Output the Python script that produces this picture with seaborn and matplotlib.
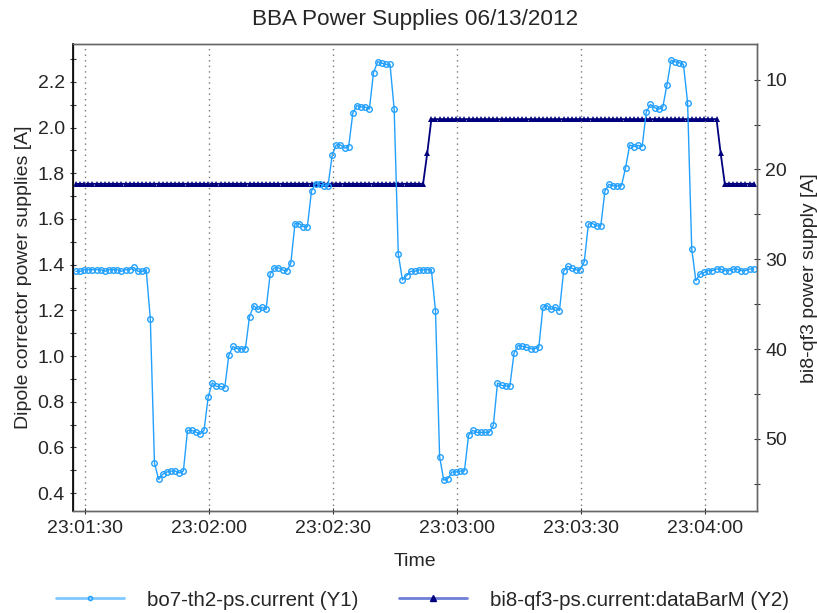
import matplotlib
matplotlib.use("Agg")
import matplotlib.pyplot as plt
import matplotlib.dates as mdates
from matplotlib.lines import Line2D
from matplotlib.ticker import MultipleLocator
import pandas as pd
import seaborn as sns

# data, one sample per second
start_time = "2012-06-13 23:01:27.8"
y1_name = "bo7-th2-ps.current (Y1)"
y2_name = "bi8-qf3-ps.current:dataBarM (Y2)"

th2_current = [
    1.371, 1.371, 1.378, 1.378, 1.378, 1.378, 1.378, 1.371, 1.378, 1.378,
    1.378, 1.371, 1.378, 1.378, 1.388, 1.371, 1.371, 1.378, 1.163, 0.532,
    0.460, 0.483, 0.493, 0.497, 0.497, 0.489, 0.497, 0.675, 0.675, 0.668,
    0.658, 0.675, 0.821, 0.883, 0.867, 0.867, 0.861, 1.004, 1.042, 1.032,
    1.032, 1.032, 1.173, 1.220, 1.204, 1.214, 1.204, 1.359, 1.386, 1.386,
    1.377, 1.371, 1.407, 1.580, 1.580, 1.566, 1.566, 1.723, 1.755, 1.752,
    1.745, 1.745, 1.880, 1.924, 1.924, 1.910, 1.917, 2.064, 2.096, 2.090,
    2.090, 2.081, 2.240, 2.288, 2.282, 2.276, 2.276, 2.081, 1.447, 1.333,
    1.352, 1.371, 1.371, 1.377, 1.377, 1.378, 1.378, 1.199, 0.559, 0.457,
    0.464, 0.493, 0.493, 0.497, 0.497, 0.653, 0.675, 0.666, 0.666, 0.666,
    0.666, 0.697, 0.882, 0.872, 0.869, 0.869, 1.013, 1.046, 1.043, 1.039,
    1.032, 1.032, 1.039, 1.214, 1.221, 1.204, 1.214, 1.199, 1.371, 1.393,
    1.384, 1.377, 1.377, 1.413, 1.578, 1.580, 1.570, 1.570, 1.723, 1.752,
    1.745, 1.745, 1.745, 1.825, 1.924, 1.917, 1.922, 1.917, 2.068, 2.101,
    2.087, 2.080, 2.090, 2.186, 2.295, 2.288, 2.284, 2.276, 2.109, 1.469,
    1.330, 1.359, 1.366, 1.374, 1.374, 1.381, 1.381, 1.374, 1.374, 1.381,
    1.381, 1.374, 1.374, 1.381, 1.381,
]

qf3_current = [
    21.6, 21.6, 21.6, 21.6, 21.6, 21.6, 21.6, 21.6, 21.6, 21.6,
    21.6, 21.6, 21.6, 21.6, 21.6, 21.6, 21.6, 21.6, 21.6, 21.6,
    21.6, 21.6, 21.6, 21.6, 21.6, 21.6, 21.6, 21.6, 21.6, 21.6,
    21.6, 21.6, 21.6, 21.6, 21.6, 21.6, 21.6, 21.6, 21.6, 21.6,
    21.6, 21.6, 21.6, 21.6, 21.6, 21.6, 21.6, 21.6, 21.6, 21.6,
    21.6, 21.6, 21.6, 21.6, 21.6, 21.6, 21.6, 21.6, 21.6, 21.6,
    21.6, 21.6, 21.6, 21.6, 21.6, 21.6, 21.6, 21.6, 21.6, 21.6,
    21.6, 21.6, 21.6, 21.6, 21.6, 21.6, 21.6, 21.6, 21.6, 21.6,
    21.6, 21.6, 21.6, 21.6, 21.6, 18.2, 14.4, 14.4, 14.4, 14.4,
    14.4, 14.4, 14.4, 14.4, 14.4, 14.4, 14.4, 14.4, 14.4, 14.4,
    14.4, 14.4, 14.4, 14.4, 14.4, 14.4, 14.4, 14.4, 14.4, 14.4,
    14.4, 14.4, 14.4, 14.4, 14.4, 14.4, 14.4, 14.4, 14.4, 14.4,
    14.4, 14.4, 14.4, 14.4, 14.4, 14.4, 14.4, 14.4, 14.4, 14.4,
    14.4, 14.4, 14.4, 14.4, 14.4, 14.4, 14.4, 14.4, 14.4, 14.4,
    14.4, 14.4, 14.4, 14.4, 14.4, 14.4, 14.4, 14.4, 14.4, 14.4,
    14.4, 14.4, 14.4, 14.4, 14.4, 14.4, 18.2, 21.6, 21.6, 21.6,
    21.6, 21.6, 21.6, 21.6, 21.6,
]

times = pd.date_range(start_time, periods=len(th2_current), freq="1s")
df = pd.DataFrame({"time": times, "th2": th2_current, "qf3": qf3_current})

sns.set_style("white")
plt.rcParams["font.family"] = ["Liberation Sans", "DejaVu Sans"]
plt.rcParams["font.size"] = 13.5
plt.rcParams["xtick.labelsize"] = 14
plt.rcParams["ytick.labelsize"] = 14

light = "#22A0FF"
navy = "#00007F"

fig, ax = plt.subplots(figsize=(8.17, 6.13), dpi=100)
fig.subplots_adjust(left=0.0894, right=0.9266, top=0.928, bottom=0.166)
ax2 = ax.twinx()

sns.lineplot(data=df, x="time", y="qf3", ax=ax2, color=navy, lw=1.3,
             marker="^", markersize=4.5, markeredgewidth=0, markerfacecolor=navy)
sns.lineplot(data=df, x="time", y="th2", ax=ax, color=light, lw=1,
             marker="o", markersize=4, markerfacecolor="none",
             markeredgecolor=light, markeredgewidth=1)

# light series drawn above the navy one
ax.set_zorder(ax2.get_zorder() + 1)
ax.patch.set_visible(False)

ax.set_xlim(pd.Timestamp("2012-06-13 23:01:27.1"), pd.Timestamp("2012-06-13 23:04:12.6"))
ax.set_ylim(0.321, 2.365)
ax2.set_ylim(58.05, 6.05)

ax.xaxis.set_major_locator(mdates.SecondLocator(bysecond=[0, 30]))
ax.xaxis.set_major_formatter(mdates.DateFormatter("%H:%M:%S"))
ax.yaxis.set_major_locator(MultipleLocator(0.2))
ax.yaxis.set_minor_locator(MultipleLocator(0.1))
ax2.yaxis.set_major_locator(MultipleLocator(10))
ax2.yaxis.set_minor_locator(MultipleLocator(5))

ax.grid(axis="x", linestyle=(0, (1, 3)), color="#777777", lw=1)
ax.grid(axis="y", visible=False)
ax2.grid(False)

for a in (ax, ax2):
    a.tick_params(which="major", direction="inout", length=5, width=0.8, color="#333333")
    a.tick_params(which="minor", direction="inout", length=4, width=0.8, color="#333333")
    for s in a.spines.values():
        s.set_color("#666666")
        s.set_linewidth(1)
ax.spines["left"].set_color("black")
ax.spines["left"].set_linewidth(1.2)
ax.tick_params(axis="y", which="both", left=True)
ax2.tick_params(axis="y", which="both", right=True)
ax.tick_params(axis="x", which="major", bottom=True)

ax.set_xlabel("Time", fontsize=14, labelpad=12)
ax.set_ylabel("Dipole corrector power supplies [A]", fontsize=14)
ax2.set_ylabel("bi8-qf3 power supply [A]", fontsize=14, labelpad=10)
ax.set_title("BBA Power Supplies 06/13/2012", pad=14)

handles = [
    Line2D([], [], color="#80C8FF", lw=2, marker="o", markersize=3,
           markerfacecolor="none", markeredgecolor=light),
    Line2D([], [], color="#6F7FD8", lw=2, marker="^", markersize=4,
           markerfacecolor=navy, markeredgecolor=navy),
]
if ax.get_legend():
    ax.get_legend().remove()
if ax2.get_legend():
    ax2.get_legend().remove()
fig.legend(handles, [y1_name, y2_name], loc="center", bbox_to_anchor=(0.517, 0.021),
           ncol=2, frameon=False, fontsize=14.8, handlelength=3.3,
           columnspacing=2.0, handletextpad=1.1)

fig.savefig("out.png", dpi=100)
